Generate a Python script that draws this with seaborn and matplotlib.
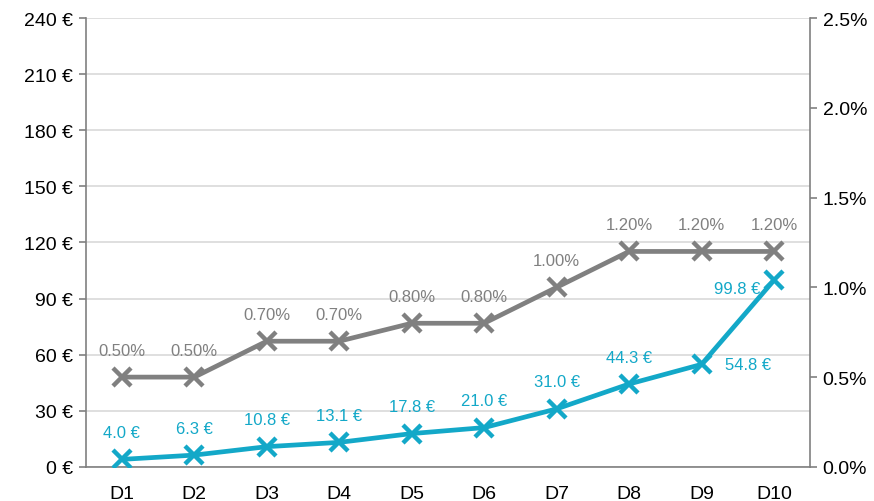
import numpy as np
import pandas as pd
import matplotlib
matplotlib.use('Agg')
import matplotlib.pyplot as plt
import seaborn as sns

# chart values
deciles = ['D1', 'D2', 'D3', 'D4', 'D5', 'D6', 'D7', 'D8', 'D9', 'D10']
amount_eur = [4.0, 6.3, 10.8, 13.1, 17.8, 21.0, 31.0, 44.3, 54.8, 99.8]
rate_pct = [0.50, 0.50, 0.70, 0.70, 0.80, 0.80, 1.00, 1.20, 1.20, 1.20]
left_ticks = [0, 30, 60, 90, 120, 150, 180, 210, 240]
right_ticks = [0.0, 0.5, 1.0, 1.5, 2.0, 2.5]

blue = '#13A8C8'
grey = '#808080'

df = pd.DataFrame({'decile': deciles, 'amount': amount_eur, 'rate': rate_pct})
df['pos'] = np.arange(len(df))

sns.set_style('white')
plt.rcParams['font.family'] = ['Liberation Sans', 'DejaVu Sans']

fig, ax = plt.subplots(figsize=(8.74, 5.02), dpi=100)
fig.subplots_adjust(left=0.098, right=0.927, top=0.962, bottom=0.068)
ax2 = ax.twinx()

# grid on the left axis
ax.set_ylim(0, 240)
ax.set_yticks(left_ticks)
ax.set_yticklabels([f'{v} €' for v in left_ticks])
ax.yaxis.grid(True, color='#d9d9d9', linewidth=1.2)
ax.set_axisbelow(True)

sns.lineplot(data=df, x='pos', y='amount', ax=ax, color=blue, linewidth=3.4,
             marker='x', markersize=13, markeredgewidth=3.2,
             markeredgecolor=blue, zorder=3)
sns.lineplot(data=df, x='pos', y='rate', ax=ax2, color=grey, linewidth=3.4,
             marker='x', markersize=13, markeredgewidth=3.2,
             markeredgecolor=grey, zorder=3)

ax2.set_ylim(0, 2.5)
ax2.set_yticks(right_ticks)
ax2.set_yticklabels([f'{v:.1f}%' for v in right_ticks])

ax.set_xlim(-0.5, len(deciles) - 0.5)
ax.set_xticks(df['pos'])
ax.set_xticklabels(deciles)
ax.set_xticks(np.arange(-0.5, len(deciles)), minor=True)
ax.tick_params(axis='x', which='major', length=0, labelsize=14, pad=13, labelcolor='black')
ax.tick_params(axis='x', which='minor', length=5, width=1.2, color=grey, direction='out')
ax.tick_params(axis='y', length=5, width=1.2, color=grey, direction='out', labelsize=14,
               labelcolor='black', pad=4)
ax2.tick_params(axis='y', length=5, width=1.2, color=grey, direction='out', labelsize=14,
                labelcolor='black', pad=4)

for a in (ax, ax2):
    a.set_xlabel('')
    a.set_ylabel('')
    a.spines['top'].set_visible(False)
    for side in ('left', 'right', 'bottom'):
        a.spines[side].set_color(grey)
        a.spines[side].set_linewidth(1.2)
ax.spines['right'].set_visible(False)
ax2.spines['left'].set_visible(False)
ax2.spines['bottom'].set_visible(False)

# labels
for i, r in enumerate(rate_pct):
    ax2.annotate(f'{r:.2f}%', (i, r), xytext=(0, 14), textcoords='offset points',
                 ha='center', va='bottom', color=grey, fontsize=12)
for i, v in enumerate(amount_eur):
    if deciles[i] == 'D9':
        off, ha, va = (17, 0), 'left', 'center'
    elif deciles[i] == 'D10':
        off, ha, va = (-10, -6), 'right', 'center'
    else:
        off, ha, va = (0, 14), 'center', 'bottom'
    ax.annotate(f'{v:.1f} €', (i, v), xytext=off, textcoords='offset points',
                ha=ha, va=va, color=blue, fontsize=12)

plt.savefig('out.png', dpi=100)
